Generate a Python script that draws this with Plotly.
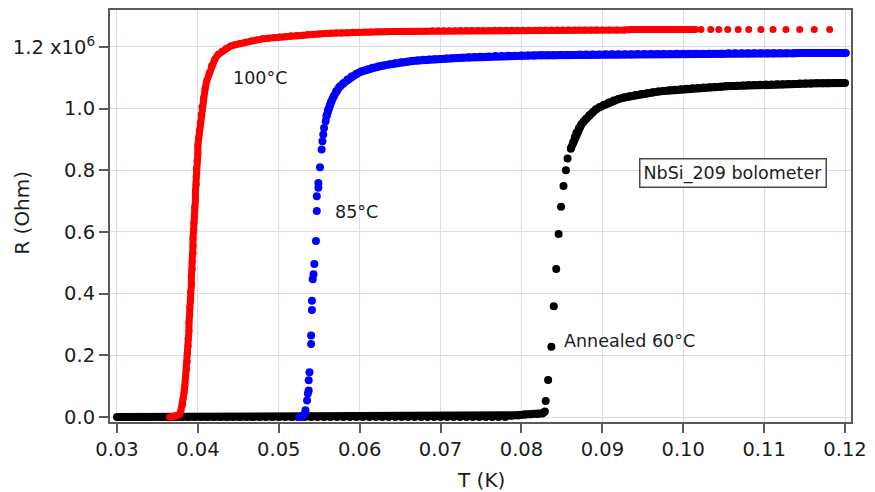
import plotly.graph_objects as go

# ---------------------------------------------------------------------------
# NbSi_209 bolometer: resistance vs temperature for three annealing temps.
# Temperatures in K, resistances in units of 10^6 Ohm.
# ---------------------------------------------------------------------------

# Annealed at 60 degC (black)
t_annealed_60 = [
    0.0300, 0.0308, 0.0316, 0.0324, 0.0332, 0.0340, 0.0348, 0.0356, 0.0364, 0.0372,
    0.0380, 0.0388, 0.0396, 0.0404, 0.0412, 0.0420, 0.0428, 0.0436, 0.0444, 0.0452,
    0.0460, 0.0468, 0.0476, 0.0484, 0.0492, 0.0500, 0.0508, 0.0516, 0.0524, 0.0532,
    0.0540, 0.0548, 0.0556, 0.0564, 0.0572, 0.0580, 0.0588, 0.0596, 0.0604, 0.0612,
    0.0620, 0.0628, 0.0636, 0.0644, 0.0652, 0.0660, 0.0668, 0.0676, 0.0684, 0.0692,
    0.0700, 0.0708, 0.0716, 0.0724, 0.0732, 0.0740, 0.0748, 0.0756, 0.0764, 0.0772,
    0.0780, 0.0788, 0.0796, 0.0804, 0.0812, 0.0820, 0.0826, 0.0829,
    0.0830, 0.0833, 0.0837, 0.0840, 0.0843, 0.0846, 0.0849, 0.0852, 0.0855, 0.0857,
    0.0861, 0.0864, 0.0866, 0.0868, 0.0871, 0.0874, 0.0877, 0.0880, 0.0884, 0.0888,
    0.0892, 0.0897, 0.0902, 0.0908, 0.0914, 0.0920, 0.0927, 0.0934, 0.0941, 0.0948,
    0.0955, 0.0962, 0.0969, 0.0976, 0.0983, 0.0990, 0.0997, 0.1004, 0.1011, 0.1018,
    0.1025, 0.1032, 0.1039, 0.1046, 0.1053, 0.1060, 0.1067, 0.1074, 0.1081, 0.1088,
    0.1095, 0.1102, 0.1109, 0.1116, 0.1123, 0.1130, 0.1137, 0.1144, 0.1151, 0.1158,
    0.1165, 0.1172, 0.1179, 0.1186, 0.1193, 0.1200,
]
r_annealed_60 = [
    0.000, 0.000, 0.000, 0.000, 0.000, 0.000, 0.000, 0.000, 0.000, 0.000,
    0.000, 0.000, 0.000, 0.000, 0.000, 0.000, 0.000, 0.000, 0.000, 0.000,
    0.000, 0.000, 0.000, 0.000, 0.000, 0.000, 0.000, 0.000, 0.000, 0.000,
    0.000, 0.000, 0.000, 0.000, 0.000, 0.000, 0.000, 0.000, 0.000, 0.000,
    0.000, 0.000, 0.000, 0.000, 0.000, 0.000, 0.000, 0.000, 0.000, 0.000,
    0.000, 0.000, 0.000, 0.000, 0.000, 0.000, 0.000, 0.000, 0.000, 0.000,
    0.000, 0.004, 0.006, 0.008, 0.009, 0.010, 0.012, 0.018,
    0.052, 0.120, 0.228, 0.359, 0.480, 0.593, 0.682, 0.749, 0.800, 0.838,
    0.870, 0.892, 0.908, 0.922, 0.936, 0.948, 0.958, 0.967, 0.978, 0.988,
    0.997, 1.005, 1.012, 1.020, 1.026, 1.031, 1.036, 1.040, 1.044, 1.047,
    1.050, 1.053, 1.055, 1.057, 1.059, 1.061, 1.063, 1.064, 1.066, 1.067,
    1.068, 1.069, 1.070, 1.071, 1.072, 1.073, 1.074, 1.075, 1.076, 1.076,
    1.077, 1.078, 1.078, 1.079, 1.079, 1.080, 1.080, 1.081, 1.081, 1.081,
    1.082, 1.082, 1.082, 1.083, 1.083, 1.083,
]

# Annealed at 85 degC (blue)
t_85 = [
    0.0525, 0.0529, 0.0532, 0.0533, 0.0535, 0.0536, 0.0537, 0.0537, 0.0538, 0.0540,
    0.0540, 0.0541, 0.0541, 0.0542, 0.0543, 0.0544, 0.0546, 0.0547, 0.0547, 0.0549,
    0.0549, 0.0551, 0.0553, 0.0554, 0.0555, 0.0556, 0.0558, 0.0559, 0.0561, 0.0563,
    0.0565, 0.0568, 0.0571, 0.0575, 0.0580, 0.0585, 0.0590, 0.0596, 0.0602, 0.0609,
    0.0616, 0.0623, 0.0630, 0.0637, 0.0644, 0.0651, 0.0658, 0.0665, 0.0672, 0.0679,
    0.0686, 0.0693, 0.0700, 0.0707, 0.0714, 0.0721, 0.0728, 0.0735, 0.0742, 0.0749,
    0.0756, 0.0760, 0.0768, 0.0776, 0.0784, 0.0792, 0.0800, 0.0808, 0.0816, 0.0824,
    0.0832, 0.0840, 0.0848, 0.0856, 0.0864, 0.0872, 0.0880, 0.0888, 0.0896, 0.0904,
    0.0912, 0.0920, 0.0928, 0.0936, 0.0944, 0.0952, 0.0960, 0.0968, 0.0976, 0.0984,
    0.0992, 0.1000, 0.1008, 0.1016, 0.1024, 0.1032, 0.1040, 0.1048, 0.1056, 0.1064,
    0.1072, 0.1080, 0.1088, 0.1096, 0.1104, 0.1112, 0.1120, 0.1128, 0.1136, 0.1144,
    0.1152, 0.1160, 0.1168, 0.1176, 0.1184, 0.1192, 0.1201,
]
r_85 = [
    0.000, 0.002, 0.010, 0.022, 0.054, 0.076, 0.086, 0.119, 0.145, 0.237,
    0.264, 0.347, 0.377, 0.447, 0.463, 0.496, 0.571, 0.668, 0.716, 0.743,
    0.759, 0.810, 0.867, 0.894, 0.916, 0.937, 0.959, 0.975, 0.996, 1.010,
    1.023, 1.040, 1.056, 1.070, 1.082, 1.094, 1.104, 1.112, 1.120, 1.127,
    1.132, 1.136, 1.140, 1.144, 1.147, 1.150, 1.152, 1.154, 1.156, 1.158,
    1.159, 1.160, 1.161, 1.162, 1.163, 1.164, 1.165, 1.166, 1.167, 1.168,
    1.168, 1.169, 1.170, 1.170, 1.171, 1.171, 1.172, 1.172, 1.172, 1.173,
    1.173, 1.173, 1.174, 1.174, 1.174, 1.175, 1.175, 1.175, 1.175, 1.176,
    1.176, 1.176, 1.176, 1.176, 1.177, 1.177, 1.177, 1.177, 1.177, 1.177,
    1.178, 1.178, 1.178, 1.178, 1.178, 1.178, 1.178, 1.178, 1.179, 1.179,
    1.179, 1.179, 1.179, 1.179, 1.179, 1.179, 1.179, 1.179, 1.179, 1.180,
    1.180, 1.180, 1.180, 1.180, 1.180, 1.180, 1.180,
]

# Annealed at 100 degC (red)
t_100 = [
    0.0365, 0.0368, 0.0371, 0.0374, 0.0377, 0.0379, 0.0381, 0.0382, 0.0383, 0.0384,
    0.0385, 0.0386, 0.0387, 0.0387, 0.0388, 0.0388, 0.0389, 0.0389, 0.0390, 0.0390,
    0.0391, 0.0391, 0.0392, 0.0392, 0.0393, 0.0393, 0.0394, 0.0394, 0.0394, 0.0395,
    0.0395, 0.0396, 0.0396, 0.0397, 0.0397, 0.0398, 0.0398, 0.0398, 0.0399, 0.0400,
    0.0400, 0.0401, 0.0402, 0.0403, 0.0404, 0.0405, 0.0407, 0.0409, 0.0411, 0.0414,
    0.0417, 0.0421, 0.0425, 0.0430, 0.0435, 0.0440,
    0.0445, 0.0452, 0.0459, 0.0466, 0.0473, 0.0480, 0.0487, 0.0494, 0.0501, 0.0508,
    0.0515, 0.0522, 0.0529, 0.0536, 0.0543, 0.0550, 0.0557, 0.0564, 0.0571, 0.0578,
    0.0585, 0.0592, 0.0599, 0.0606, 0.0613, 0.0620, 0.0627, 0.0634, 0.0641, 0.0648,
    0.0655, 0.0662, 0.0669, 0.0676, 0.0683, 0.0690, 0.0697, 0.0704, 0.0711, 0.0718,
    0.0725, 0.0732, 0.0739, 0.0746, 0.0753, 0.0760, 0.0767, 0.0774, 0.0781, 0.0788,
    0.0795, 0.0802, 0.0809, 0.0816, 0.0823, 0.0830, 0.0837, 0.0844, 0.0851, 0.0858,
    0.0865, 0.0872, 0.0879, 0.0886, 0.0893, 0.0900, 0.0909, 0.0918, 0.0927, 0.0936,
    0.0945, 0.0954, 0.0963, 0.0972, 0.0981, 0.0990, 0.0999, 0.1008, 0.1015, 0.1022,
    0.1034, 0.1044, 0.1055, 0.1068, 0.1081, 0.1096, 0.1111, 0.1127, 0.1144, 0.1162,
    0.1181,
]
r_100 = [
    0.000, 0.001, 0.002, 0.004, 0.008, 0.020, 0.040, 0.060, 0.080, 0.105,
    0.130, 0.155, 0.180, 0.205, 0.230, 0.255, 0.280, 0.305, 0.330, 0.355,
    0.380, 0.405, 0.430, 0.455, 0.480, 0.505, 0.530, 0.555, 0.580, 0.605,
    0.630, 0.655, 0.680, 0.705, 0.730, 0.755, 0.780, 0.805, 0.830, 0.855,
    0.880, 0.905, 0.930, 0.955, 0.980, 1.005, 1.035, 1.065, 1.090, 1.115,
    1.140, 1.160, 1.175, 1.186, 1.195, 1.202,
    1.206, 1.211, 1.216, 1.220, 1.223, 1.226, 1.228, 1.230, 1.232, 1.234,
    1.236, 1.237, 1.238, 1.240, 1.241, 1.242, 1.243, 1.244, 1.245, 1.245,
    1.246, 1.247, 1.247, 1.248, 1.248, 1.249, 1.249, 1.249, 1.250, 1.250,
    1.250, 1.251, 1.251, 1.251, 1.251, 1.252, 1.252, 1.252, 1.252, 1.252,
    1.253, 1.253, 1.253, 1.253, 1.253, 1.253, 1.254, 1.254, 1.254, 1.254,
    1.254, 1.254, 1.254, 1.254, 1.255, 1.255, 1.255, 1.255, 1.255, 1.255,
    1.255, 1.255, 1.255, 1.255, 1.255, 1.255, 1.255, 1.255, 1.255, 1.256,
    1.256, 1.256, 1.256, 1.256, 1.256, 1.256, 1.256, 1.256, 1.256, 1.256,
    1.256, 1.256, 1.256, 1.256, 1.256, 1.256, 1.256, 1.256, 1.256, 1.256,
    1.256,
]

# Axis ticks
x_ticks = [0.03, 0.04, 0.05, 0.06, 0.07, 0.08, 0.09, 0.10, 0.11, 0.12]
x_tick_labels = ["0.03", "0.04", "0.05", "0.06", "0.07", "0.08", "0.09", "0.10", "0.11", "0.12"]
y_ticks = [0.0, 0.2, 0.4, 0.6, 0.8, 1.0, 1.2]
y_tick_labels = ["0.0", "0.2", "0.4", "0.6", "0.8", "1.0", "1.2 x10<sup>6</sup>"]

FONT = "DejaVu Sans"
TEXT = "#1c1c1c"
FRAME = "#5a5a5a"
GRID = "#dadaf2"

fig = go.Figure()

# (T, R, colour, marker size, temperature window where samples are sparse)
series = [
    (t_annealed_60, r_annealed_60, "#000000", 8, (0.08295, 0.0859)),
    (t_85, r_85, "#0000ff", 8, (0.05305, 0.05585)),
    (t_100, r_100, "#ff0000", 7, (0.1018, 1.0)),
]
for t, r, color, size, (lo, hi) in series:
    # densely sampled stretches read as a continuous band
    r_dense = [None if lo < ti < hi else ri for ti, ri in zip(t, r)]
    fig.add_trace(go.Scatter(
        x=t, y=r_dense, mode="lines", connectgaps=False,
        line=dict(color=color, width=size), showlegend=False, hoverinfo="skip",
    ))
    fig.add_trace(go.Scatter(
        x=t, y=r, mode="markers",
        marker=dict(color=color, size=size, line=dict(width=0)),
        showlegend=False,
    ))

annotations = [
    dict(x=0.0477, y=1.098, text="100°C"),
    dict(x=0.0596, y=0.665, text="85°C"),
    dict(x=0.0934, y=0.248, text="Annealed 60°C"),
]
for a in annotations:
    fig.add_annotation(
        x=a["x"], y=a["y"], xref="x", yref="y", text=a["text"], showarrow=False,
        xanchor="center", yanchor="middle",
        font=dict(family=FONT, size=17.5, color=TEXT),
    )

# boxed sample label
fig.add_annotation(
    x=0.1062, y=0.791, xref="x", yref="y", text="NbSi_209 bolometer",
    showarrow=False, xanchor="center", yanchor="middle",
    font=dict(family=FONT, size=17.5, color=TEXT),
    bgcolor="white", bordercolor="#4a4a4a", borderwidth=1.5, borderpad=3,
)

# axis titles
fig.add_annotation(
    x=-0.118, y=0.507, xref="paper", yref="paper", text="R (Ohm)",
    textangle=-90, showarrow=False, xanchor="center", yanchor="middle",
    font=dict(family=FONT, size=20, color=TEXT),
)
fig.add_annotation(
    x=0.501, y=-0.140, xref="paper", yref="paper", text="T (K)",
    showarrow=False, xanchor="center", yanchor="middle",
    font=dict(family=FONT, size=20, color=TEXT),
)

axis_common = dict(
    showline=True, mirror=True, linecolor=FRAME, linewidth=2,
    ticks="outside", ticklen=9, tickwidth=1.5, tickcolor=FRAME,
    showgrid=True, gridcolor=GRID, gridwidth=1, zeroline=False,
    tickfont=dict(family=FONT, size=19.5, color=TEXT),
)

fig.update_layout(
    width=875, height=492,
    margin=dict(l=110, r=19, t=8, b=70),
    paper_bgcolor="white", plot_bgcolor="white",
    xaxis=dict(range=[0.02914, 0.12074], tickvals=x_ticks, ticktext=x_tick_labels, **axis_common),
    yaxis=dict(range=[-0.016, 1.3195], tickvals=y_ticks, ticktext=y_tick_labels, **axis_common),
)

fig.write_html("out.html")
